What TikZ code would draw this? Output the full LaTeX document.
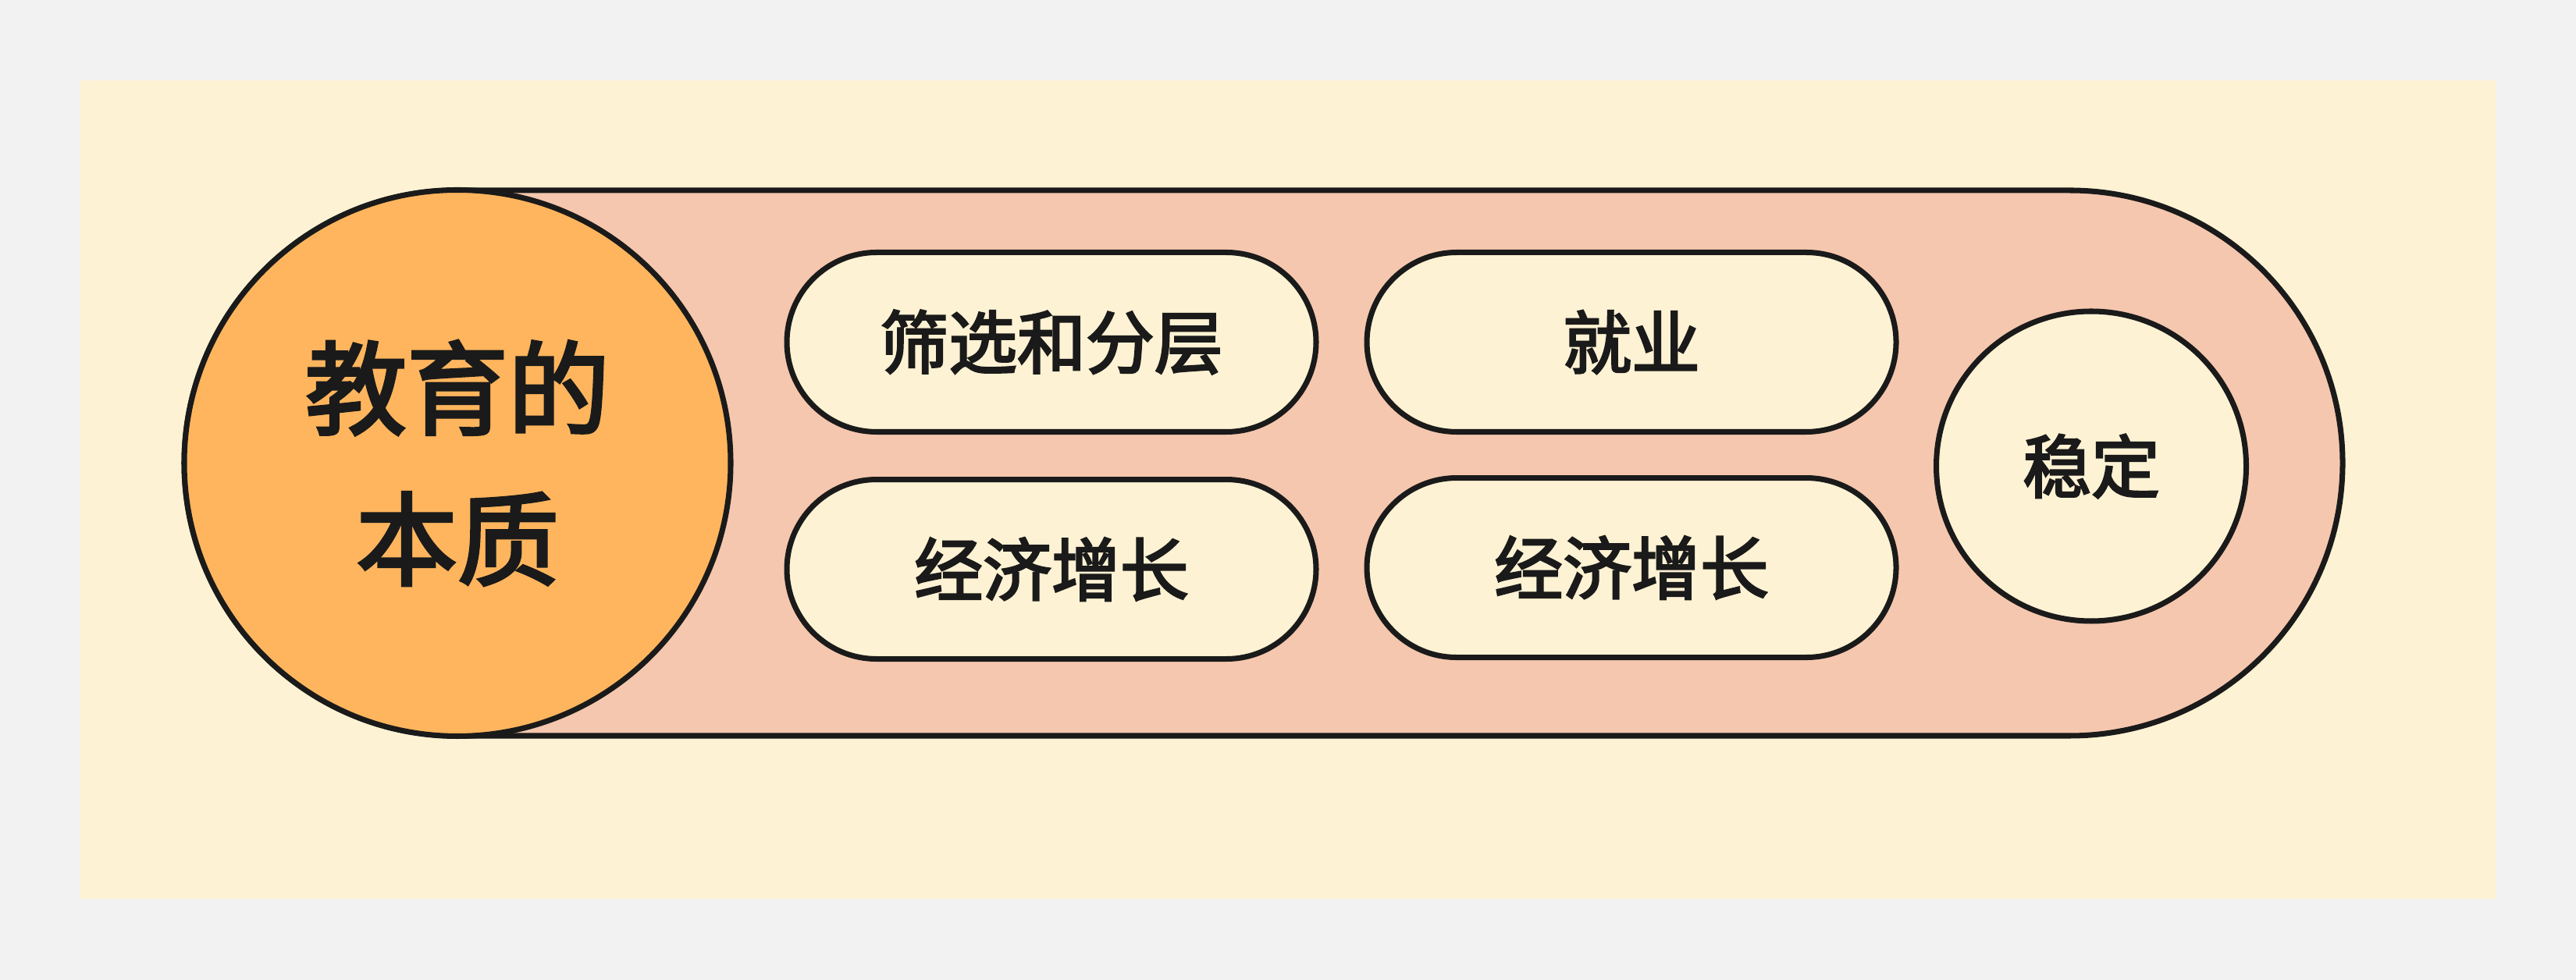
\documentclass[tikz,border=0pt]{standalone}
\usepackage{fontspec}
\usepackage{xcolor}
\usepackage{tikz}
\usetikzlibrary{shapes.misc,positioning}
\newfontfamily\cjk{Noto Sans CJK SC}[FakeBold=3]

\definecolor{pagegray}{HTML}{F2F2F2}
\definecolor{cream}{HTML}{FDF2D3}
\definecolor{salmon}{HTML}{F5C7AE}
\definecolor{orange}{HTML}{FFB55D}
\definecolor{ink}{HTML}{1A1A1A}

\begin{document}
\begin{tikzpicture}[
    outline/.style = {draw = ink, line width = 2pt},
    pill/.style = {rounded rectangle, outline, fill = cream, minimum width = 6.78cm, minimum height = 2.30cm, inner sep = 0pt, font = \cjk\fontsize{25}{30}\selectfont, text = ink}
]
    \useasboundingbox (0,0) rectangle (33,12.56);
    \fill[pagegray] (0,0) rectangle (33,12.56);
    \fill[cream] (1.03,1.04) rectangle (31.97,11.53);

    \node [rectangle, rounded corners = 3.495cm, outline, fill = salmon, minimum width = 27.65cm, minimum height = 6.99cm] (track) at (16.185,6.625) {};
    \node [circle, outline, fill = orange, minimum size = 7cm, inner sep = 0pt, align = center, text = ink, font = \cjk\fontsize{37}{55}\selectfont] (core) at (5.86,6.625) {教育的\\本质};

    \node [pill] (screen) at (13.47,8.175) {筛选和分层};
    \node [pill] (job) [right = 0.58cm of screen] {就业};
    \node [pill] (growA) [below = 0.54cm of screen] {经济增长};
    \node [pill] (growB) [below = 0.52cm of job] {经济增长};
    \node [circle, outline, fill = cream, minimum size = 3.97cm, inner sep = 0pt, text = ink, font = \cjk\fontsize{25}{30}\selectfont] (stable) at (26.79,6.585) {稳定};
\end{tikzpicture}
\end{document}
